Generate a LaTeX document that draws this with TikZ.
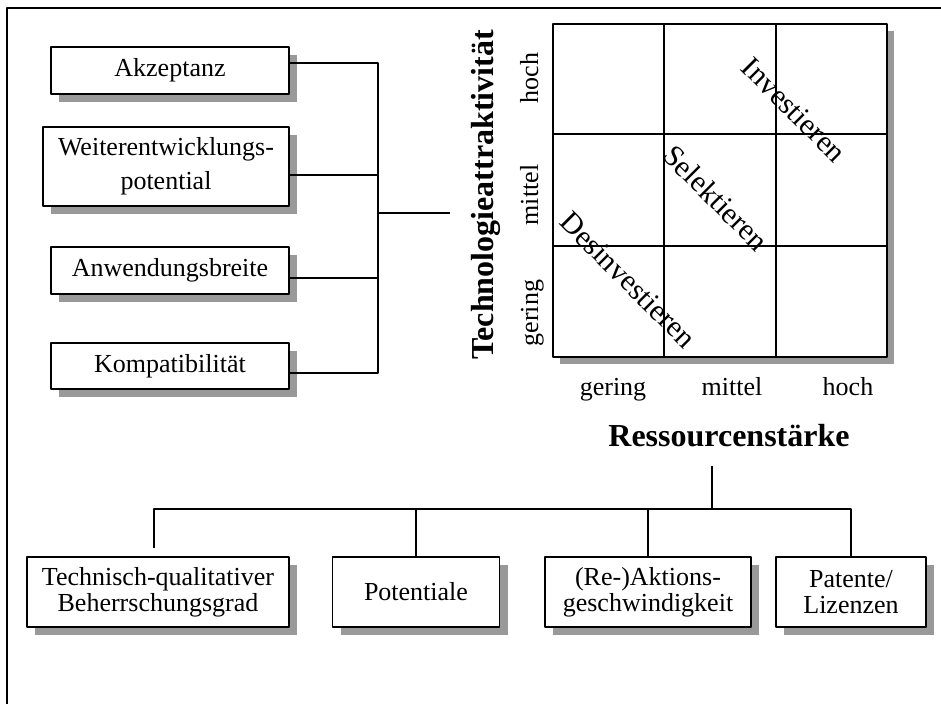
\documentclass[tikz,border=0pt]{standalone}
\usepackage{fontspec}
\setmainfont{Liberation Serif}
\usepackage{tikz}
\usetikzlibrary{shadows,calc}

\definecolor{schatten}{gray}{0.6}

\tikzset{
  kriterium/.style={draw, fill=white, line width=0.9pt, inner sep=0pt, align=center,
    font=\fontsize{19.5}{25.5}\selectfont,
    drop shadow={opacity=1, fill=schatten, shadow xshift=6pt, shadow yshift=-6pt}},
  eng/.style={font=\fontsize{19.5}{19.5}\selectfont, minimum height=52.5pt},
  achse/.style={font=\fontsize{19.5}{23}\selectfont, anchor=base},
  titel/.style={font=\fontsize{24}{29}\selectfont\bfseries, anchor=base},
  strategie/.style={font=\fontsize{22.5}{27}\selectfont, rotate=-45}
}

\begin{document}
\begin{tikzpicture}[x=0.75pt, y=-0.75pt, line join=round, line width=0.8pt]

\useasboundingbox (0,0) rectangle (941,704);

% Rahmen
\draw[line width=1.4pt] (7,704) -- (7,8) -- (941,8);

% Kriterien links
\node (akz) at (170,70.5) [kriterium, minimum width=178.5pt, minimum height=35.25pt] {Akzeptanz};
\node (wei) at (166,166.5) [kriterium, minimum width=184.5pt, minimum height=59.25pt] {Weiterentwicklungs-\\potential};
\node (anw) at (170,270.5) [kriterium, minimum width=178.5pt, minimum height=35.25pt] {Anwendungsbreite};
\node (kom) at (170,366) [kriterium, minimum width=178.5pt, minimum height=34.5pt] {Kompatibilität};

\coordinate (b1) at (378,63);
\coordinate (b2) at (378,175);
\coordinate (b3) at (378,278);
\coordinate (b4) at (378,373);
\coordinate (mitte) at (378,213);
\coordinate (stiel) at (450,213);

\draw (akz.east |- b1) -- (b1) -- (b4) -- (kom.east |- b4);
\draw (wei.east |- b2) -- (b2);
\draw (anw.east |- b3) -- (b3);
\draw (mitte) -- (stiel);

% Portfolio
\fill[schatten] (560,31) rectangle (894,364);
\draw[fill=white, line width=0.9pt] (553,24) rectangle (887,357);

\draw (664,24) -- (664,357);
\draw (776,24) -- (776,357);
\draw (553,134) -- (887,134);
\draw (553,246) -- (887,246);

\node (inv) at (794,110) [strategie] {Investieren};
\node (sel) at (716,198) [strategie] {Selektieren};
\node (des) at (628,280) [strategie] {Desinvestieren};

\node (yhoch) at (538,78) [achse, rotate=90] {hoch};
\node (ymittel) at (538,195) [achse, rotate=90] {mittel};
\node (ygering) at (538,313) [achse, rotate=90] {gering};
\node (tech) at (493,195) [titel, rotate=90] {Technologieattraktivität};

\node (xgering) at (613,395) [achse] {gering};
\node (xmittel) at (732,395) [achse] {mittel};
\node (xhoch) at (848,395) [achse] {hoch};
\node (res) at (729,446) [titel] {Ressourcenstärke};

% Kriterien unten
\node (beh) at (158,592) [kriterium, eng, minimum width=196.5pt] {Technisch-qualitativer\\Beherrschungsgrad};
\node (pot) at (416,592) [kriterium, eng, minimum width=125.25pt] {Potentiale};
\node (akt) at (648,592) [kriterium, eng, minimum width=154.5pt] {(Re-)Aktions-\\geschwindigkeit};
\node (pat) at (851,592) [kriterium, eng, minimum width=112.5pt] {Patente/\\Lizenzen};

\coordinate (oben) at (712,466);
\coordinate (gabel) at (712,509);
\coordinate (lose) at (154,548);

\draw (oben) -- (gabel);
\draw (lose) -- (lose |- gabel) -- (gabel -| pat.north) -- (pat.north);
\draw (gabel -| pot.north) -- (pot.north);
\draw (gabel -| akt.north) -- (akt.north);

\end{tikzpicture}
\end{document}
